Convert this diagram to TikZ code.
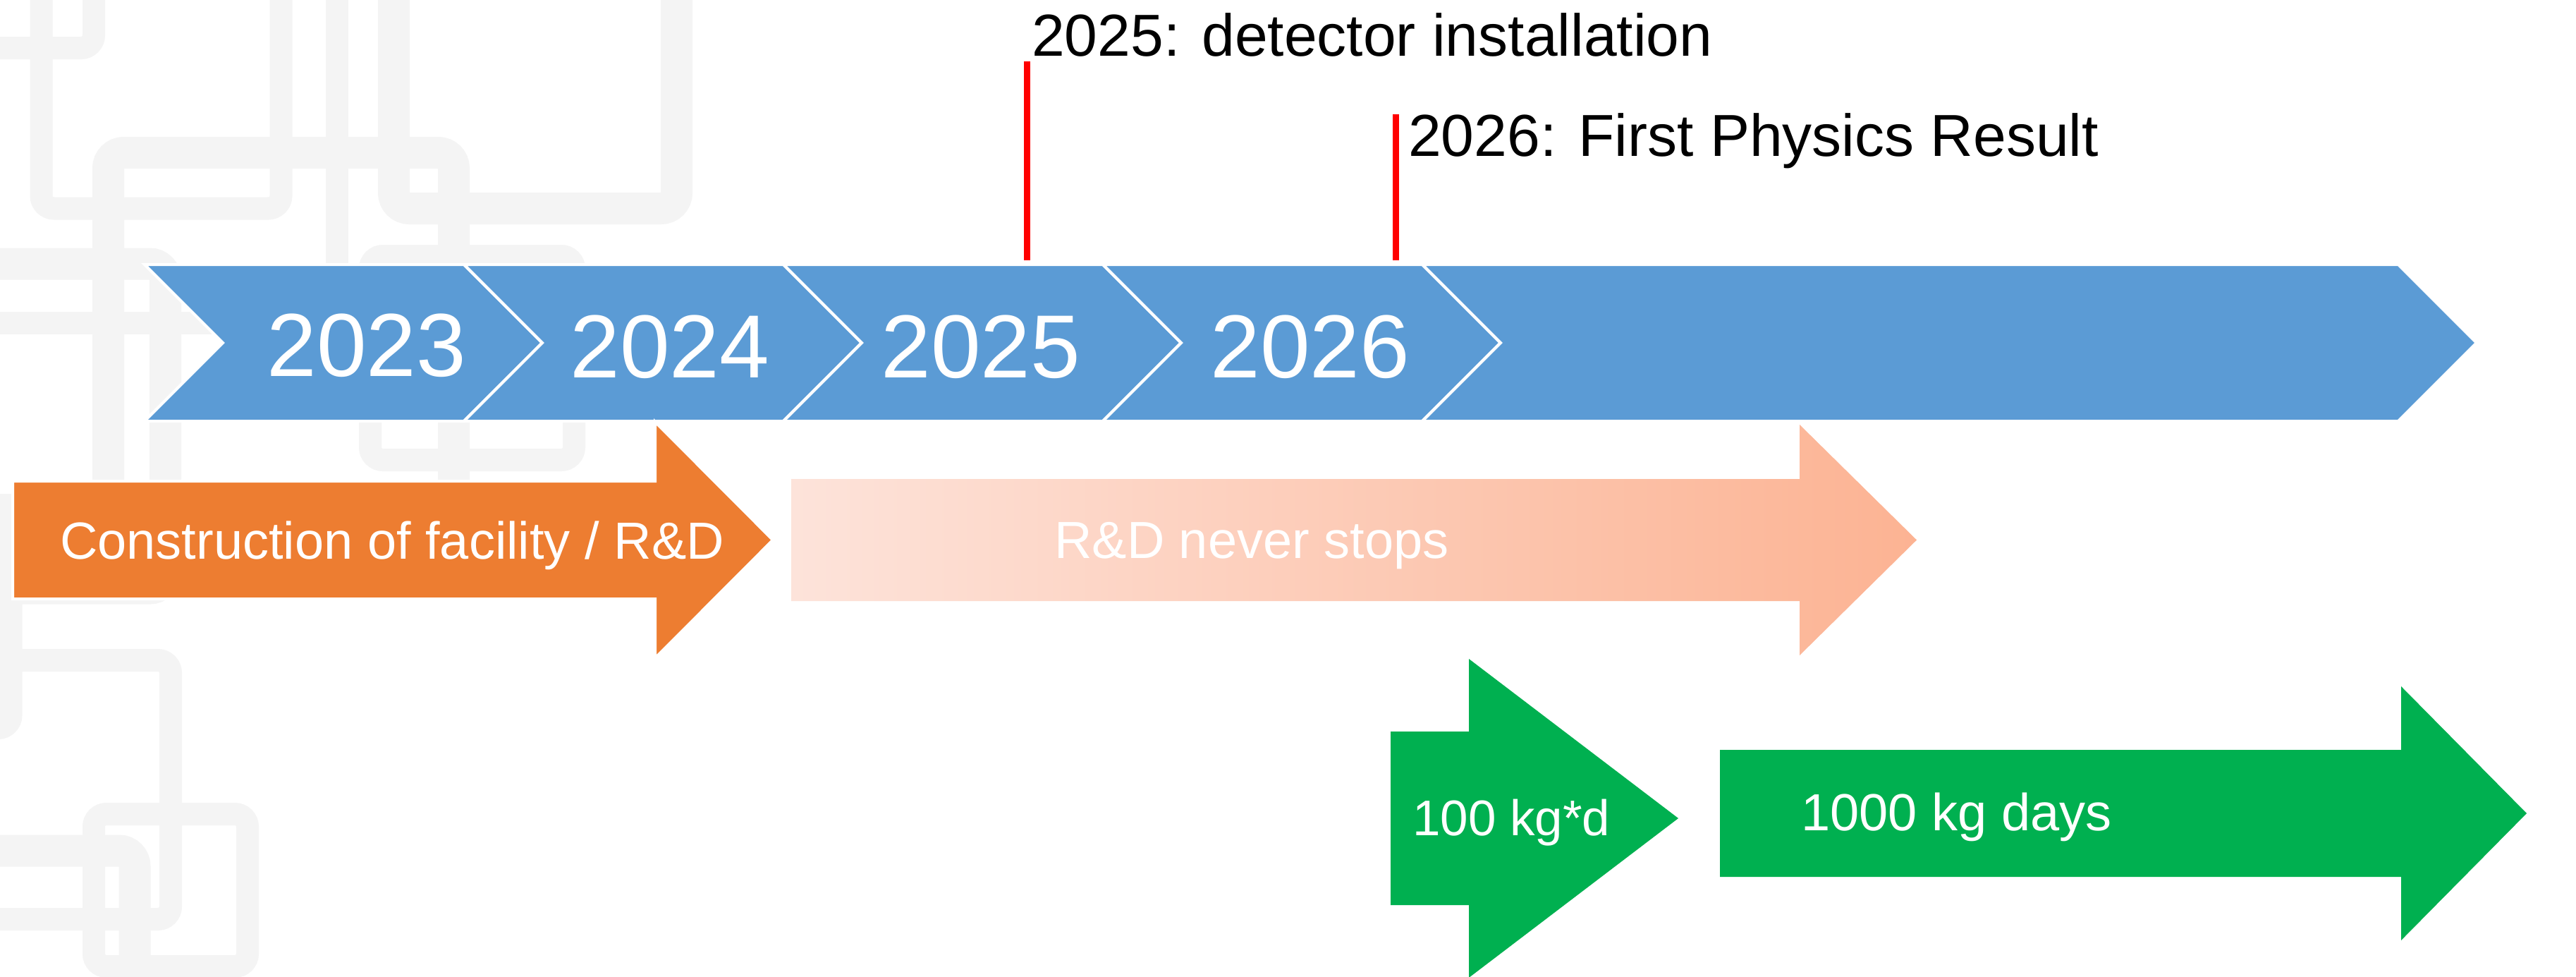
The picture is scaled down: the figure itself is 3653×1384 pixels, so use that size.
\documentclass[tikz,border=0pt]{standalone}
\usepackage{fontspec}
\setmainfont{Liberation Sans}
\definecolor{patgray}{HTML}{F4F4F4}
\definecolor{tlblue}{HTML}{5B9BD5}
\definecolor{tlorange}{HTML}{ED7D31}
\definecolor{tlgreen}{HTML}{00B050}
\definecolor{rdlight}{HTML}{FDE3DA}
\definecolor{rddark}{HTML}{FCB393}
\definecolor{mkred}{HTML}{FF0000}
\begin{document}
\begin{tikzpicture}[x=1pt,y=-1pt,
  bar/.style={draw=patgray, line width=32, rounded corners=18},
  thickbar/.style={draw=patgray, line width=45, rounded corners=22},
  chev/.style={fill=tlblue, draw=white, line width=4, line join=miter},
  arrowshape/.style={draw=white, line width=4, line join=miter},
  lbl/.style={text=white, inner sep=0, anchor=base west, font=\fontsize{74}{88}\selectfont},
  year/.style={text=white, inner sep=0, anchor=base, font=\fontsize{127}{150}\selectfont},
  note/.style={text=black, inner sep=0, anchor=base west, font=\fontsize{84}{100}\selectfont},
  marker/.style={draw=mkred, line width=9}]

% canvas
\fill[white] (0,0) rectangle (3653,1384);
\useasboundingbox (0,0) rectangle (3653,1384);

% light maze-like ornament on the left
\begin{scope}
  \clip (0,0) rectangle (3653,1384);
  \draw[bar] (-20,68) -- (133,68) -- (133,-20);
  \draw[bar] (58.5,-20) -- (58.5,295.5) -- (398.5,295.5) -- (398.5,-20);
  \draw[thickbar] (153.5,770) -- (153.5,216.5) -- (643.5,216.5) -- (643.5,770) -- cycle;
  \draw[bar] (525,363) rectangle (814,652);
  \draw[bar] (477.5,-20) -- (477.5,450);
  \draw[thickbar] (558.5,-20) -- (558.5,295.5) -- (959.5,295.5) -- (959.5,-20);
  \draw[thickbar] (-30,374) -- (234.5,374) -- (234.5,834) -- (-30,834);
  \draw[bar] (-20,458) -- (400,458);
  \draw[bar] (15.5,700) -- (15.5,1032) -- (-40,1032);
  \draw[bar] (-20,936) -- (242,936) -- (242,1303) -- (-20,1303);
  \draw[thickbar] (-20,1206) -- (191,1206) -- (191,1420);
  \draw[bar] (133,1154) rectangle (351,1370);
\end{scope}

% year chevrons
\foreach \k in {0,1,2,3}{
  \pgfmathsetmacro{\xb}{205+453*\k}
  \draw[chev] (\xb,375) -- ({\xb+453},375) -- ({\xb+564},486) -- ({\xb+453},597)
    -- (\xb,597) -- ({\xb+111},486) -- cycle;
}
\draw[chev] (2017,375) -- (3401,375) -- (3512,486) -- (3401,597) -- (2017,597) -- (2128,486) -- cycle;

\node[year] (y2023) at (520,533) {2023};
\node[year] (y2024) at (950,535) {2024};
\node[year] (y2025) at (1391,535) {2025};
\node[year] (y2026) at (1858,535) {2026};

% milestones
\coordinate (m1top) at (1456,87);
\coordinate (m1bot) at (1456,369);
\coordinate (m2top) at (1979,162);
\coordinate (m2bot) at (1979,369);
\draw[marker] (m1top) -- (m1bot);
\draw[marker] (m2top) -- (m2bot);
\node[note] (n2025) at (1463,79) {2025: detector installation};
\node[note] (n2026) at (1997,221) {2026: First Physics Result};

% construction phase
\draw[arrowshape, fill=tlorange] (18,682) -- (929,682) -- (929,598) -- (1096,765.5)
  -- (929,933) -- (929,849) -- (18,849) -- cycle;
\node[lbl] (build) at (85,792) {Construction of facility / R\&D};

% ongoing R&D
\shade[left color=rdlight, right color=rddark] (1122,679) -- (2552,679) -- (2552,602)
  -- (2718,765.5) -- (2552,929) -- (2552,852) -- (1122,852) -- cycle;
\node[lbl] (rnd) at (1495,791) {R\&D never stops};

% exposure goals
\fill[tlgreen] (1972,1037) -- (2083,1037) -- (2083,934) -- (2380,1160) -- (2083,1386)
  -- (2083,1283) -- (1972,1283) -- cycle;
\node[lbl, font=\fontsize{71}{85}\selectfont] (run1) at (2003,1184) {100 kg*d};
\fill[tlgreen] (2439,1063) -- (3405,1063) -- (3405,973) -- (3583,1153) -- (3405,1333)
  -- (3405,1243) -- (2439,1243) -- cycle;
\node[lbl] (run2) at (2554,1177) {1000 kg days};
\end{tikzpicture}
\end{document}
